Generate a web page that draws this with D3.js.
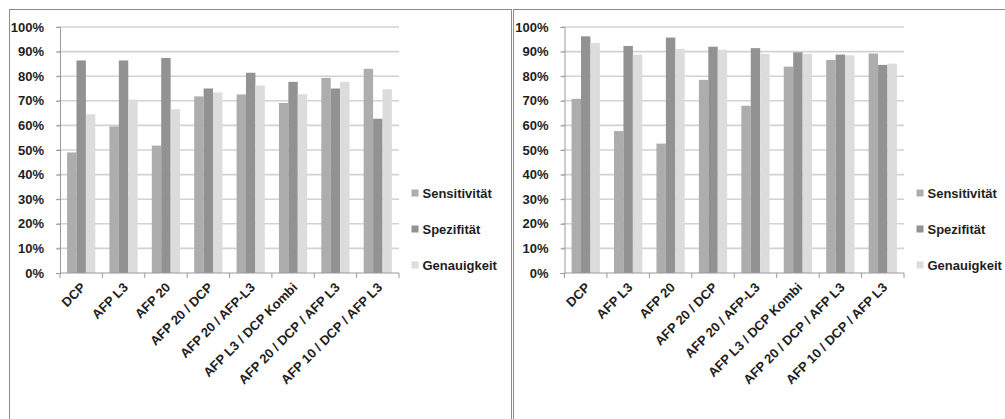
<!DOCTYPE html>
<html>
<head>
<meta charset="utf-8">
<script src="https://cdn.jsdelivr.net/npm/d3@7"></script>
<style>
  html, body { margin: 0; padding: 0; background: #ffffff; }
  svg { display: block; }
  text { font-family: "Liberation Sans", Arial, sans-serif; font-weight: bold; fill: #1e1e1e; }
</style>
</head>
<body>
<svg id="chart" width="1005" height="419"></svg>
<script>
// Kategorien (Marker bzw. Marker-Kombinationen)
const categories = [
  "DCP", "AFP L3", "AFP 20", "AFP 20 / DCP", "AFP 20 / AFP-L3",
  "AFP L3 / DCP Kombi", "AFP 20 / DCP / AFP L3", "AFP 10 / DCP / AFP L3"
];
const seriesNames = ["Sensitivität", "Spezifität", "Genauigkeit"];
const yTicks = [0, 10, 20, 30, 40, 50, 60, 70, 80, 90, 100];

// Linkes Diagramm (Werte in %)
const leftSens = [49, 59.6, 51.8, 71.8, 72.6, 69.1, 79.3, 83.0];
const leftSpez = [86.4, 86.4, 87.4, 75.0, 81.4, 77.7, 75.0, 62.7];
const leftGen  = [64.5, 70.5, 66.6, 73.4, 76.2, 72.7, 77.7, 74.7];

// Rechtes Diagramm (Werte in %)
const rightSens = [70.8, 57.7, 52.6, 78.5, 68.0, 83.9, 86.6, 89.2];
const rightSpez = [96.2, 92.3, 95.7, 92.0, 91.4, 89.7, 88.8, 84.6];
const rightGen  = [93.5, 88.8, 91.1, 90.8, 89.1, 89.1, 88.5, 85.1];

const colors = ["#adadad", "#929292", "#dcdcdc"];
const fontSize = "13px";

const svg = d3.select("#chart");

function drawPanel(cfg) {
  const g = svg.append("g");

  // Rahmen des Diagrammbereichs
  g.append("rect")
    .attr("x", cfg.frame[0] + 0.5).attr("y", 9.5)
    .attr("width", cfg.frame[1] - cfg.frame[0]).attr("height", 500)
    .attr("fill", "none").attr("stroke", "#8c8c8c").attr("stroke-width", 1);

  const x = d3.scaleBand().domain(categories).range([cfg.left, cfg.right]).paddingInner(0).paddingOuter(0);
  const y = d3.scaleLinear().domain([0, 100]).range([cfg.bottom, cfg.top]);
  const inner = d3.scaleBand().domain(seriesNames)
    .range([0, x.bandwidth()]).paddingInner(0).paddingOuter(0.75);

  // Hilfslinien
  g.append("g").selectAll("line").data(yTicks.filter(d => d > 0)).join("line")
    .attr("x1", cfg.left - 3).attr("x2", cfg.right)
    .attr("y1", d => y(d)).attr("y2", d => y(d))
    .attr("stroke", "#d2d2d2").attr("stroke-width", 1.6);

  // Y-Achse
  const yAxis = d3.axisLeft(y).tickValues(yTicks).tickSize(4).tickPadding(12)
    .tickFormat(d => d + "%");
  const ya = g.append("g").attr("transform", `translate(${cfg.left},0)`).call(yAxis);
  ya.select(".domain").attr("stroke", "#9a9a9a");
  ya.selectAll(".tick line").attr("stroke", "#9a9a9a");
  ya.selectAll(".tick text").attr("font-size", fontSize).attr("fill", "#1e1e1e")
    .attr("font-family", null);

  // Balken
  const series = cfg.values.map((vals, i) => ({ name: seriesNames[i], vals }));
  series.forEach((s, si) => {
    g.append("g").selectAll("rect").data(s.vals).join("rect")
      .attr("x", (d, i) => x(categories[i]) + inner(s.name))
      .attr("width", inner.bandwidth())
      .attr("y", d => y(d))
      .attr("height", d => y(0) - y(d))
      .attr("fill", colors[si]);
  });

  // X-Achse mit Teilstrichen an den Kategoriegrenzen
  const xa = g.append("g").attr("transform", `translate(0,${cfg.bottom})`);
  xa.append("line").attr("x1", cfg.left).attr("x2", cfg.right)
    .attr("stroke", "#9a9a9a").attr("stroke-width", 1.2);
  const bounds = categories.map(c => x(c)).concat([cfg.right]);
  xa.selectAll("line.tk").data(bounds).join("line").attr("class", "tk")
    .attr("x1", d => d).attr("x2", d => d).attr("y1", 0).attr("y2", 5)
    .attr("stroke", "#9a9a9a");
  xa.selectAll("text").data(categories).join("text")
    .attr("transform", d => `translate(${x(d) + x.bandwidth() / 2 + 2},${12}) rotate(-45)`)
    .attr("text-anchor", "end")
    .attr("dy", "0.35em")
    .attr("font-size", fontSize)
    .text(d => d);

  // Legende
  const lg = g.append("g").attr("transform", `translate(${cfg.legendX},0)`);
  seriesNames.forEach((n, i) => {
    const cy = cfg.legendY[i];
    lg.append("rect").attr("x", 0).attr("y", cy - 3.5).attr("width", 7).attr("height", 7)
      .attr("fill", colors[i]);
    lg.append("text").attr("x", 11).attr("y", cy).attr("dy", "0.35em")
      .attr("font-size", fontSize).text(n);
  });
}

drawPanel({
  frame: [9, 511], left: 60, right: 399, top: 27, bottom: 273,
  values: [leftSens, leftSpez, leftGen],
  legendX: 411.5, legendY: [193, 229, 265]
});

drawPanel({
  frame: [513, 1010], left: 564.5, right: 904, top: 27, bottom: 273,
  values: [rightSens, rightSpez, rightGen],
  legendX: 916.5, legendY: [193, 229, 265]
});
</script>
</body>
</html>
